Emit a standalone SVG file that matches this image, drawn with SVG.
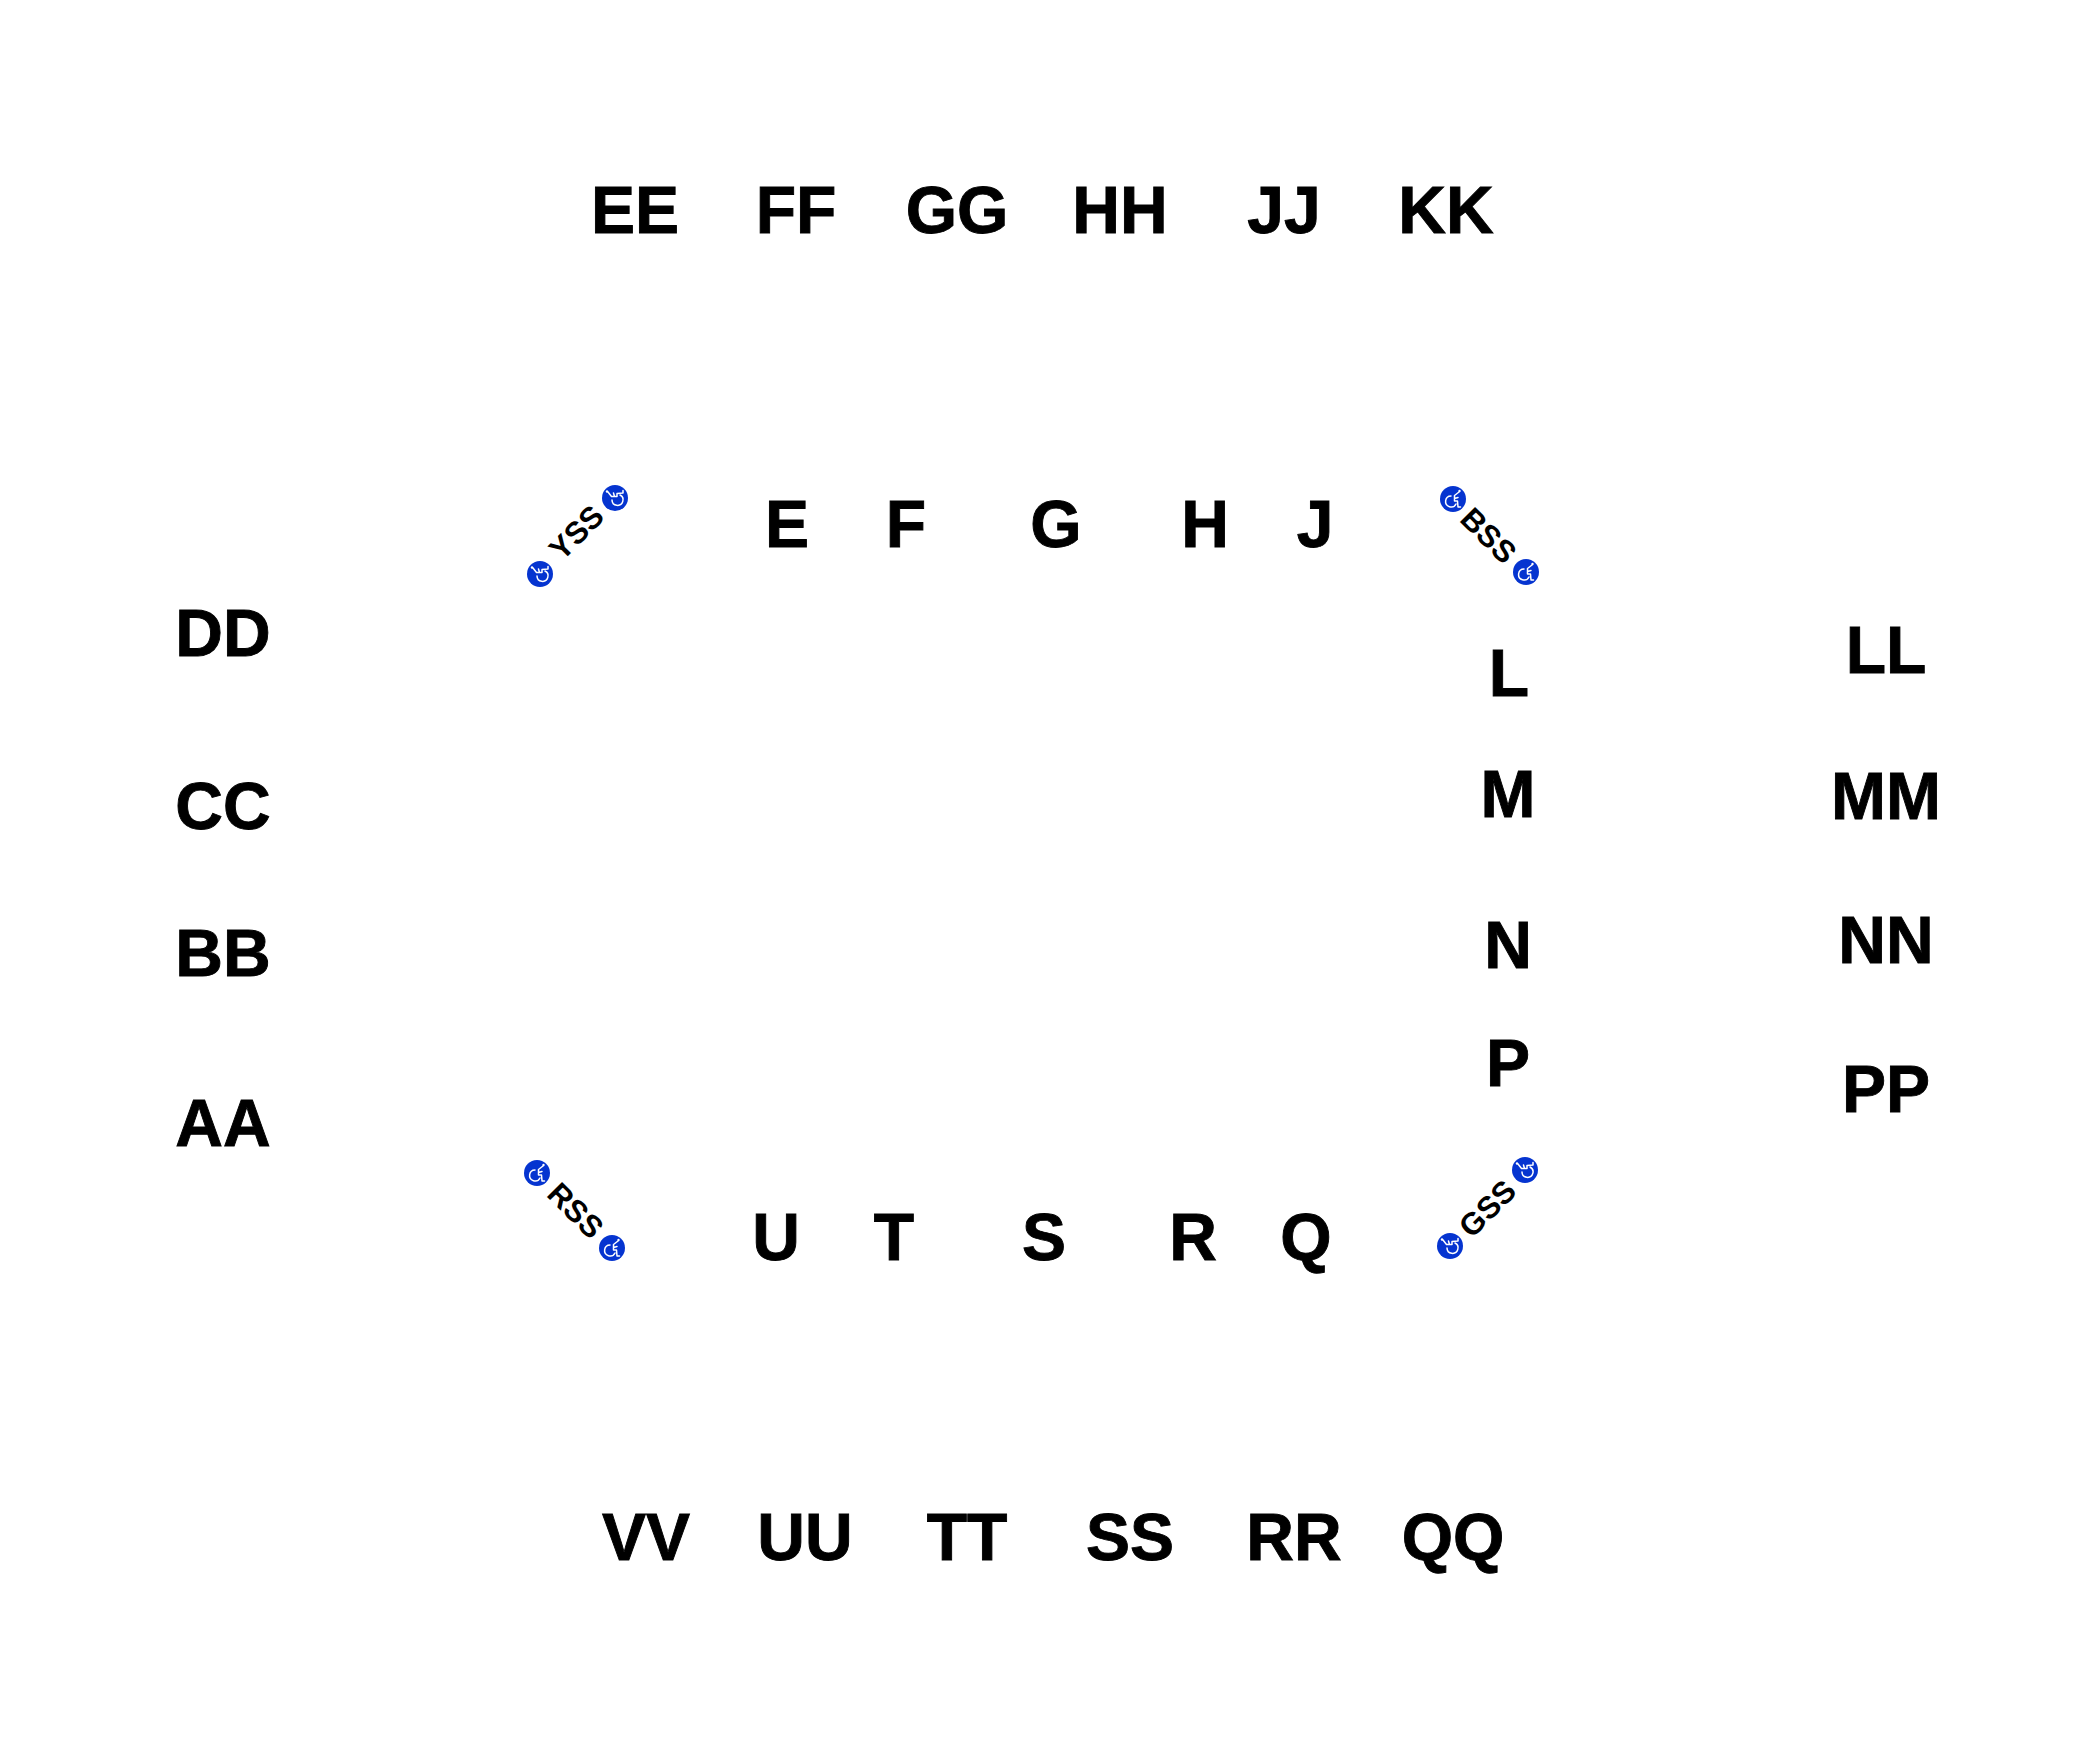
<svg xmlns="http://www.w3.org/2000/svg" width="2100" height="1744" viewBox="0 0 2100 1744">
<style>
text{font-family:"Liberation Sans",Arial,sans-serif;font-weight:700;fill:#000;text-anchor:middle}
.big{font-size:66px;stroke:#000;stroke-width:.9px}
.sm{font-size:31px}
.dot{fill:#0534d0}
.ic{fill:none;stroke:#fff;stroke-width:1.5;stroke-linecap:round;stroke-linejoin:round}
</style>
<defs>
<g id="wc">
<circle class="dot" r="13"/>
<path class="ic" d="M-2-3A5.500 5.500 0 1 0 3 5"/>
<path class="ic" d="M6-7L1.500-3.500L1.500 2L4.500 2L5 8L7.500 8M1.500-.5L5-1.500"/>
<circle r="1.200" cx="6.500" cy="-8" fill="#fff"/>
</g>
</defs>
<rect width="2100" height="1744" fill="#fff"/>
<g id="EE"><text class="big" x="635" y="232.500">EE</text></g>
<g id="FF"><text class="big" x="796" y="232.500">FF</text></g>
<g id="GG"><text class="big" x="957" y="232.500">GG</text></g>
<g id="HH"><text class="big" x="1120" y="232.500">HH</text></g>
<g id="JJ"><text class="big" x="1284" y="232.500">JJ</text></g>
<g id="KK"><text class="big" x="1446" y="232.500">KK</text></g>
<g id="E"><text class="big" x="787" y="547">E</text></g>
<g id="F"><text class="big" x="906" y="547">F</text></g>
<g id="G"><text class="big" x="1056" y="547">G</text></g>
<g id="H"><text class="big" x="1205" y="547">H</text></g>
<g id="J"><text class="big" x="1315" y="547">J</text></g>
<g id="L"><text class="big" x="1509" y="696">L</text></g>
<g id="M"><text class="big" x="1508" y="817">M</text></g>
<g id="N"><text class="big" x="1508" y="968">N</text></g>
<g id="P"><text class="big" x="1508" y="1086">P</text></g>
<g id="LL"><text class="big" x="1886" y="673">LL</text></g>
<g id="MM"><text class="big" x="1886" y="819">MM</text></g>
<g id="NN"><text class="big" x="1886" y="963">NN</text></g>
<g id="PP"><text class="big" x="1886" y="1112">PP</text></g>
<g id="DD"><text class="big" x="223" y="656">DD</text></g>
<g id="CC"><text class="big" x="223" y="829">CC</text></g>
<g id="BB"><text class="big" x="223" y="976">BB</text></g>
<g id="AA"><text class="big" x="223" y="1146">AA</text></g>
<g id="U"><text class="big" x="776" y="1260">U</text></g>
<g id="T"><text class="big" x="894" y="1260">T</text></g>
<g id="S"><text class="big" x="1044" y="1260">S</text></g>
<g id="R"><text class="big" x="1193" y="1260">R</text></g>
<g id="Q"><text class="big" x="1306" y="1260">Q</text></g>
<g id="VV"><text class="big" x="646" y="1560">VV</text></g>
<g id="UU"><text class="big" x="805" y="1560">UU</text></g>
<g id="TT"><text class="big" x="967" y="1560">TT</text></g>
<g id="SS"><text class="big" x="1130" y="1560">SS</text></g>
<g id="RR"><text class="big" x="1294" y="1560">RR</text></g>
<g id="QQ"><text class="big" x="1453" y="1560">QQ</text></g>
<g id="YSS">
<use href="#wc" transform="translate(615 498) rotate(-90)"/>
<use href="#wc" transform="translate(540 574) rotate(-90)"/>
<text class="sm" transform="translate(584 540) rotate(-45)">YSS</text>
</g>
<g id="BSS">
<use href="#wc" transform="translate(1453 499)"/>
<use href="#wc" transform="translate(1526 572)"/>
<text class="sm" transform="translate(1481 543) rotate(45)">BSS</text>
</g>
<g id="RSS">
<use href="#wc" transform="translate(537 1173)"/>
<use href="#wc" transform="translate(612 1248)"/>
<text class="sm" transform="translate(568 1218) rotate(45)">RSS</text>
</g>
<g id="GSS">
<use href="#wc" transform="translate(1525 1170) rotate(-90)"/>
<use href="#wc" transform="translate(1450 1246) rotate(-90)"/>
<text class="sm" transform="translate(1495 1216) rotate(-45)">GSS</text>
</g>
</svg>
